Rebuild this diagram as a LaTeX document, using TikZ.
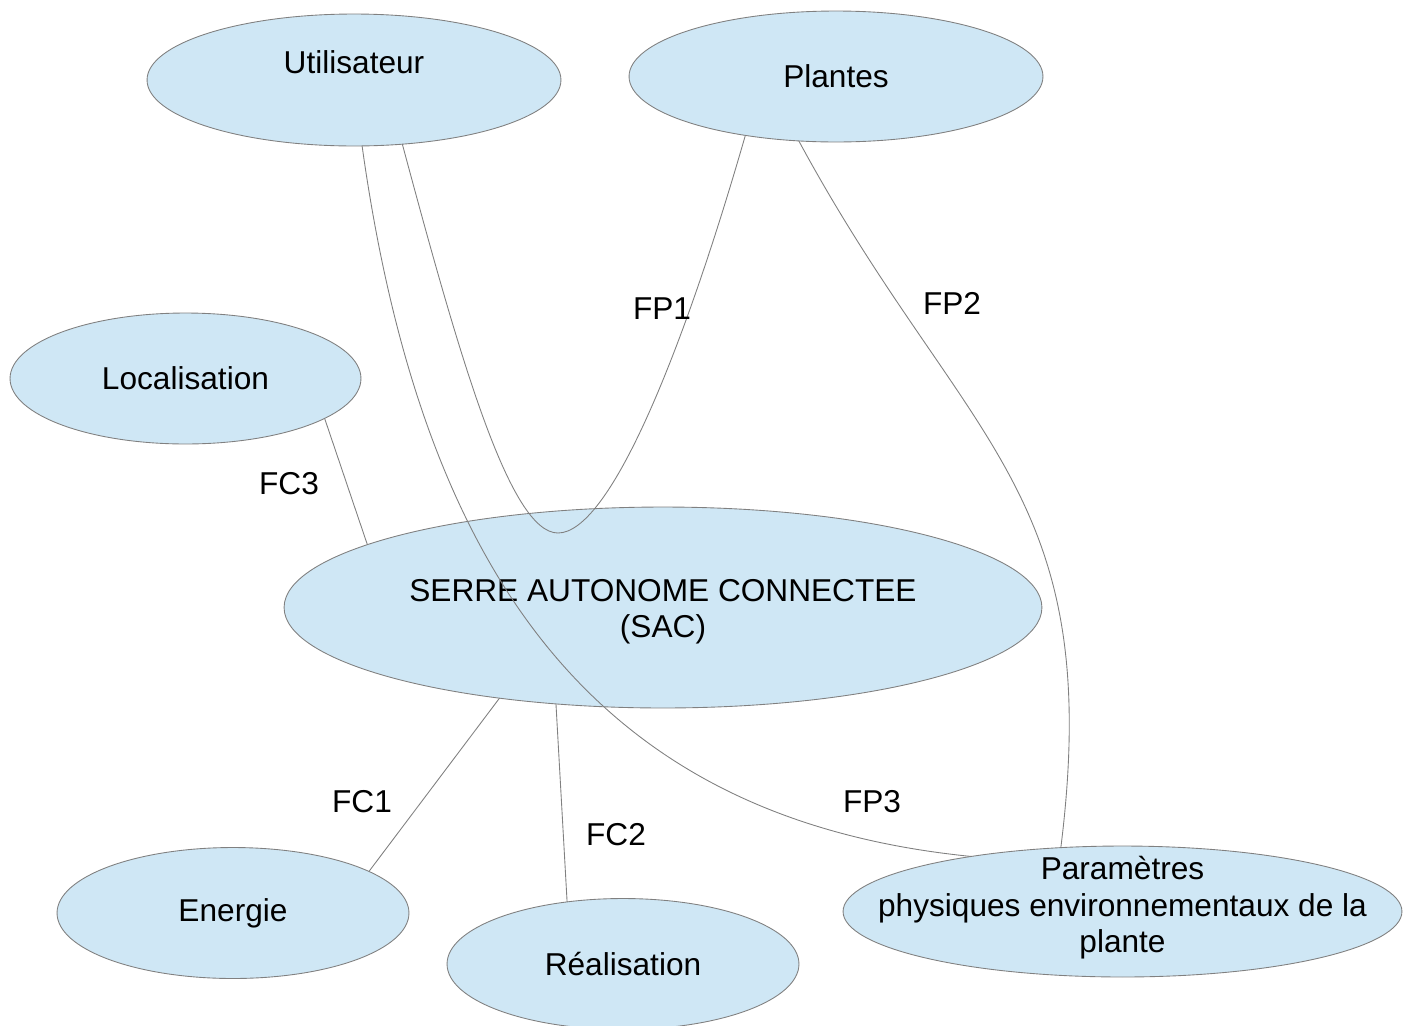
\documentclass[tikz,border=0pt]{standalone}
\usepackage{fontspec}
\setmainfont{Liberation Sans}
\usetikzlibrary{shapes.geometric}
\definecolor{bubble}{HTML}{CFE7F5}
\definecolor{wire}{HTML}{808080}
\begin{document}
\begin{tikzpicture}[x=0.02cm, y=-0.02cm, font=\fontsize{18}{20.8}\selectfont,
  acteur/.style={ellipse, draw=wire, fill=bubble, line width=0.5pt, inner sep=0pt, outer sep=0pt, align=center},
  lien/.style={draw=wire, line width=0.5pt}]
\useasboundingbox (0,0) rectangle (1410,1025);

% Elements exterieurs
\node[acteur, minimum width=8.28cm, minimum height=2.64cm, label={[yshift=0.36cm]center:Utilisateur}] (util) at (354,80) {};
\node[acteur, minimum width=8.28cm, minimum height=2.62cm] (plant) at (836,76.5) {Plantes};
\node[acteur, minimum width=7.02cm, minimum height=2.62cm] (loc) at (185.5,378.5) {Localisation};
\node[acteur, minimum width=15.16cm, minimum height=4.02cm, label={[align=center, yshift=-0.08cm]center:SERRE AUTONOME CONNECTEE\\(SAC)}] (sac) at (663,607.5) {};
\node[acteur, minimum width=7.04cm, minimum height=2.62cm] (energie) at (233,913) {Energie};
\node[acteur, minimum width=7.04cm, minimum height=2.62cm] (real) at (623,964) {Réalisation};
\node[acteur, minimum width=11.18cm, minimum height=2.62cm, label={[align=center, yshift=0.07cm]center:Paramètres\\physiques environnementaux de la\\plante}] (param) at (1122.5,911.5) {};

% Fonctions principales
\coordinate (creux) at (558,533);
\draw[lien] (util.-53) .. controls +(58,216) and +(-48,0) .. (creux) .. controls +(50,0) and +(-66,229) .. (plant.-147);
\draw[lien] (plant.-120) .. controls +(165,305) and +(45,-360) .. (param.134);
\draw[lien] (util.-83) .. controls +(63,450) and +(-360,-36) .. (param.160);

% Fonctions contraintes
\draw[lien] (loc.-16) -- (sac.168);
\draw[lien] (sac.-151) -- (energie.17);
\draw[lien] (sac.-138) -- (real.132);

% Labels
\node (fp1) at (662,309) {FP1};
\node (fp2) at (952,303) {FP2};
\node (fp3) at (872,802) {FP3};
\node (fc1) at (362,802) {FC1};
\node (fc2) at (616,835) {FC2};
\node (fc3) at (289,484) {FC3};
\end{tikzpicture}
\end{document}
